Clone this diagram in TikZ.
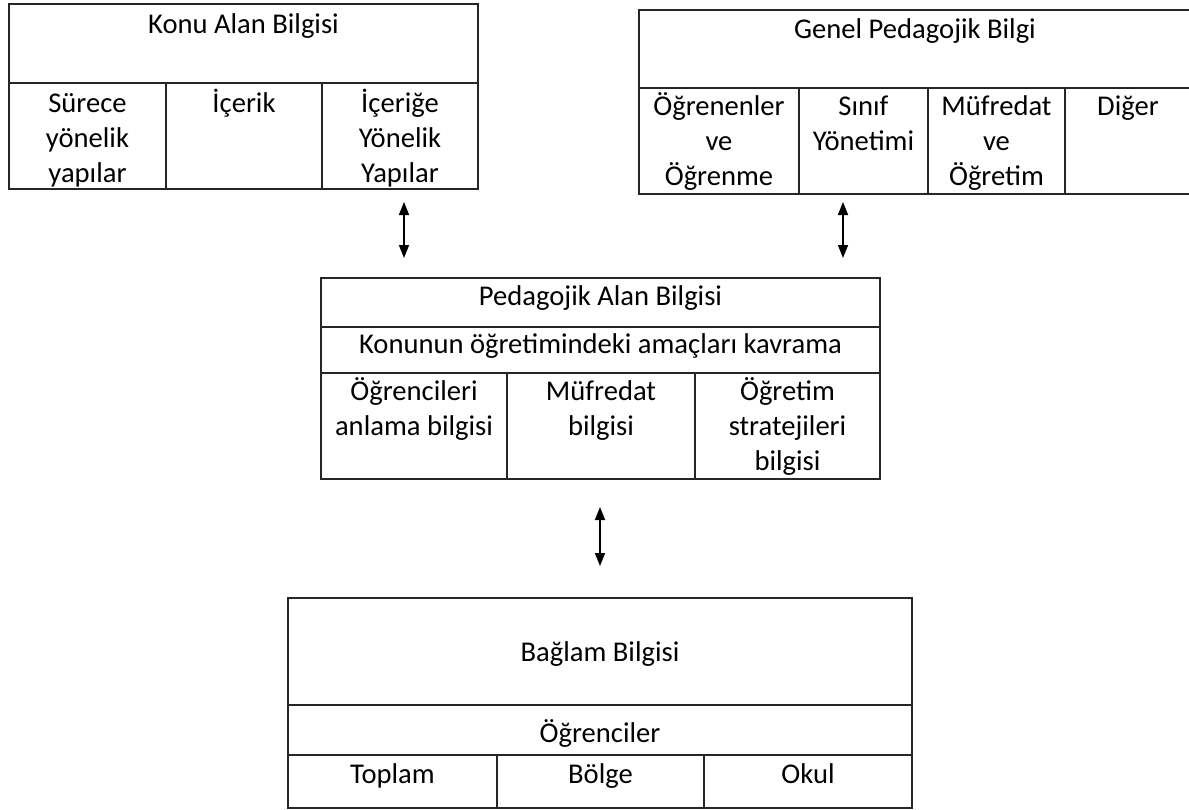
\documentclass[tikz,border=0pt]{standalone}
\usepackage{fontspec}
\newfontfamily\cfont{Carlito}
\usetikzlibrary{arrows.meta}
\tikzset{
  frame/.style={draw=black!85, line width=0.8pt},
  txt/.style={anchor=base, inner sep=0pt, font=\cfont\fontsize{14.3}{17.5}\selectfont, text=black},
  cell/.style={anchor=north, inner sep=0pt, align=center, font=\cfont\fontsize{14.3}{17.5}\selectfont, text=black},
  link/.style={draw=black, line width=0.8pt, {Triangle[length=6.5pt,width=5pt]}-{Triangle[length=6.5pt,width=5pt]}},
}
\begin{document}
\begin{tikzpicture}[x=0.5pt,y=-0.5pt]
\useasboundingbox (0,0) rectangle (1189,809);
\clip (0,0) rectangle (1189,809);

% ---------- Konu Alan Bilgisi ----------
\draw[frame] (9,4) rectangle (478,189);
\draw[frame] (9,83) -- (478,83);
\draw[frame] (166,83) -- (166,189);
\draw[frame] (322,83) -- (322,189);
\node[txt] (kab) at (243.5,33) {Konu Alan Bilgisi};
\node[cell] (kab1) at (87.5,88) {\strut Sürece\\yönelik\\yapılar};
\node[cell] (kab2) at (244,88) {\strut İçerik};
\node[cell] (kab3) at (400,88) {\strut İçeriğe\\Yönelik\\Yapılar};

% ---------- Genel Pedagojik Bilgi ----------
\draw[frame] (1191,10) -- (639,10) -- (639,194) -- (1191,194);
\draw[frame] (639,88) -- (1191,88);
\draw[frame] (799,88) -- (799,194);
\draw[frame] (928,88) -- (928,194);
\draw[frame] (1065,88) -- (1065,194);
\node[txt] (gpb) at (915,38) {Genel Pedagojik Bilgi};
\node[cell] (gpb1) at (719,91) {\strut Öğrenenler\\ve\\Öğrenme};
\node[cell] (gpb2) at (863.5,91) {\strut Sınıf\\Yönetimi};
\node[cell] (gpb3) at (996.5,91) {\strut Müfredat\\ve\\Öğretim};
\node[cell] (gpb4) at (1128,91) {\strut Diğer};

% ---------- Pedagojik Alan Bilgisi ----------
\draw[frame] (321,278) rectangle (880,479);
\draw[frame] (321,327) -- (880,327);
\draw[frame] (321,373) -- (880,373);
\draw[frame] (507,373) -- (507,479);
\draw[frame] (695,373) -- (695,479);
\node[txt] (pab) at (600.5,305) {Pedagojik Alan Bilgisi};
\node[txt] (pabamac) at (600.5,353) {Konunun öğretimindeki amaçları kavrama};
\node[cell] (pab1) at (414,376) {\strut Öğrencileri\\anlama bilgisi};
\node[cell] (pab2) at (601,376) {\strut Müfredat\\bilgisi};
\node[cell] (pab3) at (787.5,376) {\strut Öğretim\\stratejileri\\bilgisi};

% ---------- Bağlam Bilgisi ----------
\draw[frame] (288,598) rectangle (912,808);
\draw[frame] (288,705) -- (912,705);
\draw[frame] (288,755) -- (912,755);
\draw[frame] (497,755) -- (497,808);
\draw[frame] (704,755) -- (704,808);
\node[txt] (bb) at (600,661) {Bağlam Bilgisi};
\node[txt] (bbogr) at (600,742) {Öğrenciler};
\node[txt] (bb1) at (392.5,783) {Toplam};
\node[txt] (bb2) at (600.5,783) {Bölge};
\node[txt] (bb3) at (808,783) {Okul};

% ---------- connectors ----------
\coordinate (l1a) at (404,202);
\coordinate (l1b) at (404,258);
\coordinate (l2a) at (843,202);
\coordinate (l2b) at (843,258);
\coordinate (l3a) at (600,507);
\coordinate (l3b) at (600,566);
\draw[link] (l1a) -- (l1b);
\draw[link] (l2a) -- (l2b);
\draw[link] (l3a) -- (l3b);
\end{tikzpicture}
\end{document}
